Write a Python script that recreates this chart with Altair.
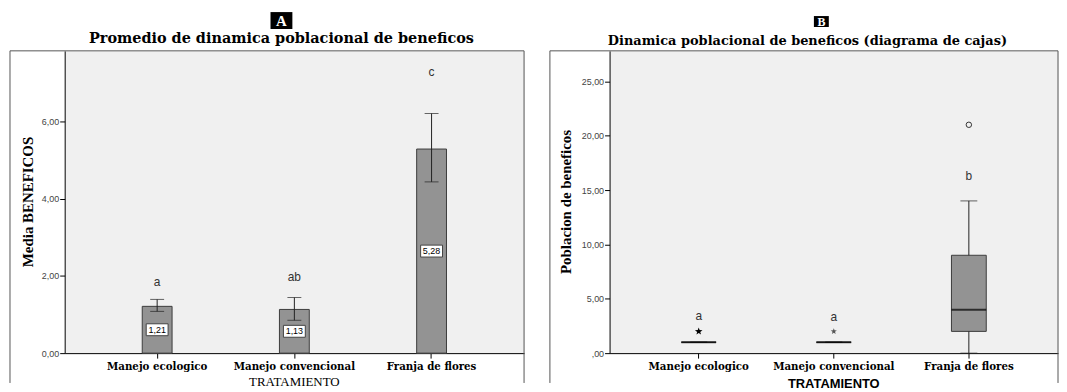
import altair as alt
import pandas as pd

# ---------------- data ----------------
categories = ["Manejo ecologico", "Manejo convencional", "Franja de flores"]

# Panel A: means with error bars
means = [1.21, 1.13, 5.28]
ci_low = [1.08, 0.85, 4.43]
ci_high = [1.39, 1.44, 6.20]
mean_labels = ["1,21", "1,13", "5,28"]
letters_a = ["a", "ab", "c"]
letters_a_y = [1.83, 1.98, 7.28]

# Panel B: box plot summary
q1 = [1, 1, 2]
median = [1, 1, 4]
q3 = [1, 1, 9]
whisk_low = [1, 1, 0]
whisk_high = [1, 1, 14]
outlier_val = [2, 2, 21]
outlier_kind = ["extreme", "extreme_light", "outlier"]
letters_b = ["a", "a", "b"]
letters_b_y = [3.4, 3.3, 16.3]

W1, H1 = 462, 304
W2, H2 = 451, 304

SERIF = "Liberation Serif"
WSERIF = "DejaVu Serif"
SANS = "Liberation Sans"
BAR_FILL = "#939393"
EDGE = "#3c3c3c"

left_df = pd.DataFrame({
    "cat": categories, "mean": means, "lo": ci_low, "hi": ci_high,
    "lab": mean_labels, "lab_y": [m / 2 for m in means],
    "let": letters_a, "let_y": letters_a_y,
})
right_df = pd.DataFrame({
    "cat": categories, "q1": q1, "med": median, "q3": q3,
    "wl": whisk_low, "wh": whisk_high, "out": outlier_val, "kind": outlier_kind,
    "let": letters_b, "let_y": letters_b_y,
})
decor = alt.Data(values=[{"k": 0}])


def x_enc(pad):
    return alt.X("cat:N", sort=categories,
                 scale=alt.Scale(paddingInner=0, paddingOuter=pad),
                 axis=alt.Axis(title="", labelAngle=0, labelFont=WSERIF, labelFontWeight="bold",
                               labelFontSize=10.3, labelColor="black", tickColor="black",
                               domainColor="black", tickSize=5, labelPadding=3))


yl_scale = alt.Scale(domain=[0, 7.82], nice=False, zero=True)
yl_axis = alt.Axis(title="", values=[0, 2, 4, 6], grid=False,
                   labelExpr="replace(format(datum.value, '.2f'), '.', ',')",
                   labelFont=SANS, labelFontSize=9, labelColor="#444",
                   tickColor="black", domainColor="black", tickSize=5, labelPadding=1)
yr_scale = alt.Scale(domain=[0, 27.8], nice=False, zero=True)
yr_axis = alt.Axis(title="", values=[0, 5, 10, 15, 20, 25], grid=False,
                   labelExpr="datum.value == 0 ? ',00' : replace(format(datum.value, '.2f'), '.', ',')",
                   labelFont=SANS, labelFontSize=9, labelColor="#444",
                   tickColor="black", domainColor="black", tickSize=5, labelPadding=1)


def yl(f):
    return alt.Y(f, scale=yl_scale, axis=yl_axis)


def yr(f):
    return alt.Y(f, scale=yr_scale, axis=yr_axis)


def frame(left, w, h):
    v = alt.Chart(decor).mark_rule(color="#555", strokeWidth=1)
    return [
        v.encode(x=alt.value(left), y=alt.value(0), y2=alt.value(h + 30)),
        v.encode(x=alt.value(w), y=alt.value(0), y2=alt.value(h + 30)),
        v.encode(x=alt.value(left), x2=alt.value(w), y=alt.value(0)),
    ]


def title_block(letter, cx_letter, box_w, box_h, box_cy, letter_size, title, cx_title, ty, title_size):
    base = alt.Chart(decor)
    return [
        base.mark_rect(color="black").encode(
            x=alt.value(cx_letter - box_w / 2), x2=alt.value(cx_letter + box_w / 2),
            y=alt.value(box_cy - box_h / 2), y2=alt.value(box_cy + box_h / 2)),
        base.mark_text(text=letter, font=SERIF, fontWeight="bold", fontSize=letter_size,
                       color="white", baseline="middle", align="center").encode(
            x=alt.value(cx_letter), y=alt.value(box_cy + 1)),
        base.mark_text(text=title, font=WSERIF, fontWeight="bold", fontSize=title_size,
                       color="black", baseline="middle", align="center").encode(
            x=alt.value(cx_title), y=alt.value(ty)),
    ]


# ---------------- Panel A ----------------
xa = x_enc(0.174)
ba = alt.Chart(left_df)
bars = ba.mark_bar(size=30, fill=BAR_FILL, stroke=EDGE, strokeWidth=1).encode(x=xa, y=yl("mean:Q"))
err = ba.mark_rule(color="#222", strokeWidth=1).encode(x=xa, y=yl("lo:Q"), y2="hi:Q")
cap_lo = ba.mark_tick(size=14, thickness=1, color="#222").encode(x=xa, y=yl("lo:Q"))
cap_hi = ba.mark_tick(size=14, thickness=1, color="#222").encode(x=xa, y=yl("hi:Q"))
box_path = "M-1,-0.545H1V0.545H-1Z"
lab_box = ba.mark_point(shape=box_path, size=484, filled=True, fill="white", stroke="#444",
                        strokeWidth=1, opacity=1).encode(x=xa, y=yl("lab_y:Q"))
lab_txt = ba.mark_text(font=SANS, fontSize=9, color="black", baseline="middle").encode(
    x=xa, y=yl("lab_y:Q"), text="lab:N")
let_a = ba.mark_text(font=SANS, fontSize=12, color="#333", baseline="middle").encode(
    x=xa, y=yl("let_y:Q"), text="let:N")

ya_title = alt.Chart(decor).mark_text(text="Media BENEFICOS", font=SERIF, fontWeight="bold",
                                      fontSize=15, angle=270, baseline="middle", align="center",
                                      color="black").encode(x=alt.value(-37), y=alt.value(H1 / 2))
xa_title = alt.Chart(decor).mark_text(text="TRATAMIENTO", font=SERIF, fontSize=13,
                                      baseline="middle", align="center", color="black").encode(
    x=alt.value(W1 / 2), y=alt.value(H1 + 29))

panel_a = alt.layer(
    *frame(-55, W1, H1),
    bars, err, cap_lo, cap_hi, lab_box, lab_txt, let_a,
    *title_block("A", 218, 22, 17, -30.5, 15, "Promedio de dinamica poblacional de beneficos", 218, -11.5, 14.5),
    ya_title, xa_title,
).properties(width=W1, height=H1)

# ---------------- Panel B ----------------
xb = x_enc(0.16)
bb = alt.Chart(right_df)
box = bb.mark_bar(size=35, fill=BAR_FILL, stroke=EDGE, strokeWidth=1).encode(x=xb, y=yr("q1:Q"), y2="q3:Q")
wh_up = bb.mark_rule(color="#222").encode(x=xb, y=yr("q3:Q"), y2="wh:Q")
wh_dn = bb.mark_rule(color="#222").encode(x=xb, y=yr("wl:Q"), y2="q1:Q")
cap_up = bb.mark_tick(size=17, thickness=1, color="#222").encode(x=xb, y=yr("wh:Q"))
cap_dn = bb.mark_tick(size=17, thickness=1, color="#222").encode(x=xb, y=yr("wl:Q"))
med = bb.mark_tick(size=35, thickness=2, color="black").encode(x=xb, y=yr("med:Q"))
star_path = ("M0,-1L0.235,-0.324L0.951,-0.309L0.380,0.124L0.588,0.809L0,0.4L-0.588,0.809"
             "L-0.380,0.124L-0.951,-0.309L-0.235,-0.324Z")
star1 = bb.transform_filter("datum.kind == 'extreme'").mark_point(
    shape=star_path, size=64, filled=True, color="black", opacity=1).encode(x=xb, y=yr("out:Q"))
star2 = bb.transform_filter("datum.kind == 'extreme_light'").mark_point(
    shape=star_path, size=42, filled=True, color="#555", opacity=1).encode(x=xb, y=yr("out:Q"))
circ = bb.transform_filter("datum.kind == 'outlier'").mark_point(
    shape="circle", size=30, filled=False, color="#333", strokeWidth=1, opacity=1).encode(x=xb, y=yr("out:Q"))
let_b = bb.mark_text(font=SANS, fontSize=12, color="#333", baseline="middle").encode(
    x=xb, y=yr("let_y:Q"), text="let:N")

yb_title = alt.Chart(decor).mark_text(text="Poblacion de beneficos", font=SERIF, fontWeight="bold",
                                      fontSize=15, angle=270, baseline="middle", align="center",
                                      color="black").encode(x=alt.value(-44), y=alt.value(H2 / 2))
xb_title = alt.Chart(decor).mark_text(text="TRATAMIENTO", font=SANS, fontWeight="bold", fontSize=13,
                                      baseline="middle", align="center", color="black").encode(
    x=alt.value(W2 / 2), y=alt.value(H2 + 31))

panel_b = alt.layer(
    *frame(-60, W2, H2),
    box, wh_up, wh_dn, cap_up, cap_dn, med, star1, star2, circ, let_b,
    *title_block("B", 213, 15, 11, -29.5, 12, "Dinamica poblacional de beneficos (diagrama de cajas)", 199, -10, 13),
    yb_title, xb_title,
).properties(width=W2, height=H2)

chart = alt.hconcat(panel_a, panel_b, spacing=24).configure(
    padding={"left": 1, "top": 2, "right": 0, "bottom": 0},
    background="white",
).configure_view(fill="#f0f0f0", stroke="transparent")

chart.save("out.html", embed_options={"renderer": "svg", "actions": False})
